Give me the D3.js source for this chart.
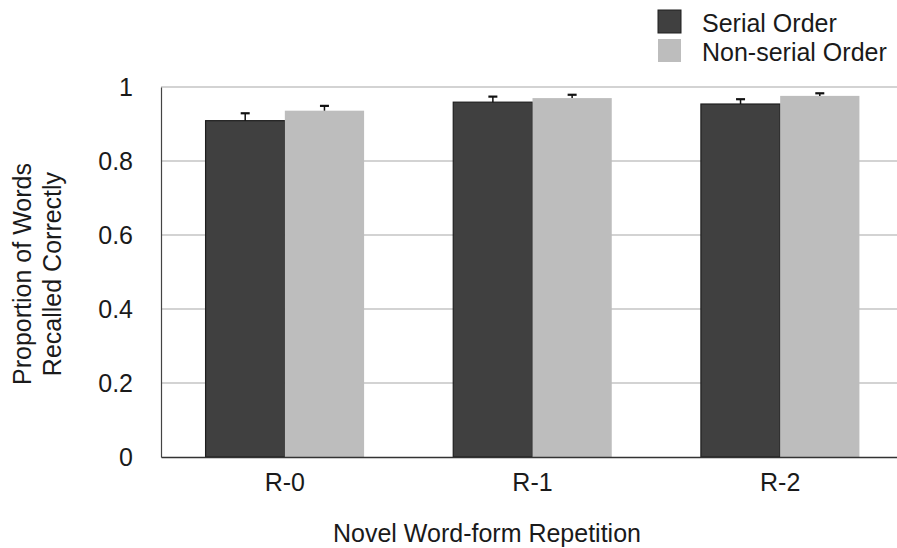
<!DOCTYPE html>
<html>
<head>
<meta charset="utf-8">
<script src="https://cdn.jsdelivr.net/npm/d3@7"></script>
<style>
  html, body { margin: 0; padding: 0; background: #fff; }
  svg { display: block; }
  text { font-family: "Liberation Sans", Arial, Helvetica, sans-serif; fill: #1a1a1a; }
</style>
</head>
<body>
<svg id="chart" width="897" height="548"></svg>
<script>
// Recall accuracy by novel word-form repetition
const categories = ["R-0", "R-1", "R-2"];
const seriesNames = ["Serial Order", "Non-serial Order"];
const serialValues = [0.909, 0.959, 0.954];
const nonSerialValues = [0.936, 0.970, 0.976];
const serialErrors = [0.020, 0.015, 0.013];
const nonSerialErrors = [0.013, 0.009, 0.007];
const yTicks = [0, 0.2, 0.4, 0.6, 0.8, 1];
const yTickLabels = ["0", "0.2", "0.4", "0.6", "0.8", "1"];

const colors = ["#404040", "#bdbdbd"];
const strokes = ["#1e1e1e", "none"];
const fontSize = 25;

const values = [serialValues, nonSerialValues];
const errors = [serialErrors, nonSerialErrors];

const svg = d3.select("#chart");
const plot = { left: 161, right: 904, top: 87, bottom: 457 };

const x = d3.scaleBand()
  .domain(categories)
  .range([plot.left, plot.right])
  .paddingInner(0.36)
  .paddingOuter(0.18);

const xSub = d3.scaleBand()
  .domain(d3.range(seriesNames.length))
  .range([0, x.bandwidth()]);

const y = d3.scaleLinear().domain([0, 1]).range([plot.bottom, plot.top]);

// horizontal gridlines
svg.append("g")
  .selectAll("line")
  .data(yTicks.filter(t => t > 0))
  .join("line")
  .attr("x1", plot.left).attr("x2", plot.right)
  .attr("y1", d => y(d)).attr("y2", d => y(d))
  .attr("stroke", "#c4c4c4")
  .attr("stroke-width", 1.5);

// bars
const groups = svg.append("g")
  .selectAll("g")
  .data(categories)
  .join("g")
  .attr("transform", d => `translate(${x(d)},0)`);

const cells = (c, i) => seriesNames.map((s, k) => ({ k, v: values[k][i], e: errors[k][i] }));

groups.selectAll("rect")
  .data(cells)
  .join("rect")
  .attr("x", d => xSub(d.k))
  .attr("y", d => y(d.v))
  .attr("width", xSub.bandwidth())
  .attr("height", d => y(0) - y(d.v))
  .attr("fill", d => colors[d.k])
  .attr("stroke", d => strokes[d.k])
  .attr("stroke-width", 1.2);

// error bars (upper half)
const err = groups.selectAll("g.err")
  .data(cells)
  .join("g")
  .attr("class", "err");

err.append("line")
  .attr("x1", d => xSub(d.k) + xSub.bandwidth() / 2)
  .attr("x2", d => xSub(d.k) + xSub.bandwidth() / 2)
  .attr("y1", d => y(d.v))
  .attr("y2", d => y(d.v + d.e))
  .attr("stroke", "#111")
  .attr("stroke-width", 1.5);

err.append("line")
  .attr("x1", d => xSub(d.k) + xSub.bandwidth() / 2 - 4.5)
  .attr("x2", d => xSub(d.k) + xSub.bandwidth() / 2 + 4.5)
  .attr("y1", d => y(d.v + d.e))
  .attr("y2", d => y(d.v + d.e))
  .attr("stroke", "#111")
  .attr("stroke-width", 2.2);

// axes
const yAxis = d3.axisLeft(y)
  .tickValues(yTicks)
  .tickFormat((d, i) => yTickLabels[i])
  .tickSize(0)
  .tickPadding(28);

const yg = svg.append("g")
  .attr("transform", `translate(${plot.left},0)`)
  .call(yAxis);
yg.select(".domain").attr("stroke", "#444").attr("stroke-width", 1.2);
yg.selectAll("text")
  .attr("font-size", fontSize)
  .attr("fill", "#1a1a1a")
  .attr("font-family", "Liberation Sans, Arial, sans-serif");

const xAxis = d3.axisBottom(x).tickSize(0).tickPadding(16);
const xg = svg.append("g")
  .attr("transform", `translate(0,${plot.bottom})`)
  .call(xAxis);
xg.select(".domain").attr("stroke", "#333").attr("stroke-width", 1.5);
xg.selectAll("text")
  .attr("font-size", fontSize)
  .attr("fill", "#1a1a1a")
  .attr("font-family", "Liberation Sans, Arial, sans-serif");

// axis titles
svg.append("text")
  .attr("x", 487).attr("y", 542)
  .attr("text-anchor", "middle")
  .attr("font-size", fontSize)
  .text("Novel Word-form Repetition");

const yTitle = svg.append("text")
  .attr("transform", "translate(0,274) rotate(-90)")
  .attr("text-anchor", "middle")
  .attr("font-size", fontSize);
yTitle.append("tspan").attr("x", 0).attr("y", 31).text("Proportion of Words");
yTitle.append("tspan").attr("x", 0).attr("y", 61).text("Recalled Correctly");

// legend
const legend = svg.append("g")
  .selectAll("g")
  .data(seriesNames)
  .join("g")
  .attr("transform", (d, i) => `translate(658,${10 + i * 29})`);
legend.append("rect")
  .attr("width", 23).attr("height", 23)
  .attr("fill", (d, i) => colors[i])
  .attr("stroke", (d, i) => i === 0 ? "#1e1e1e" : "none")
  .attr("stroke-width", 1);
legend.append("text")
  .attr("x", 44).attr("y", 22)
  .attr("font-size", fontSize)
  .text(d => d);
</script>
</body>
</html>
